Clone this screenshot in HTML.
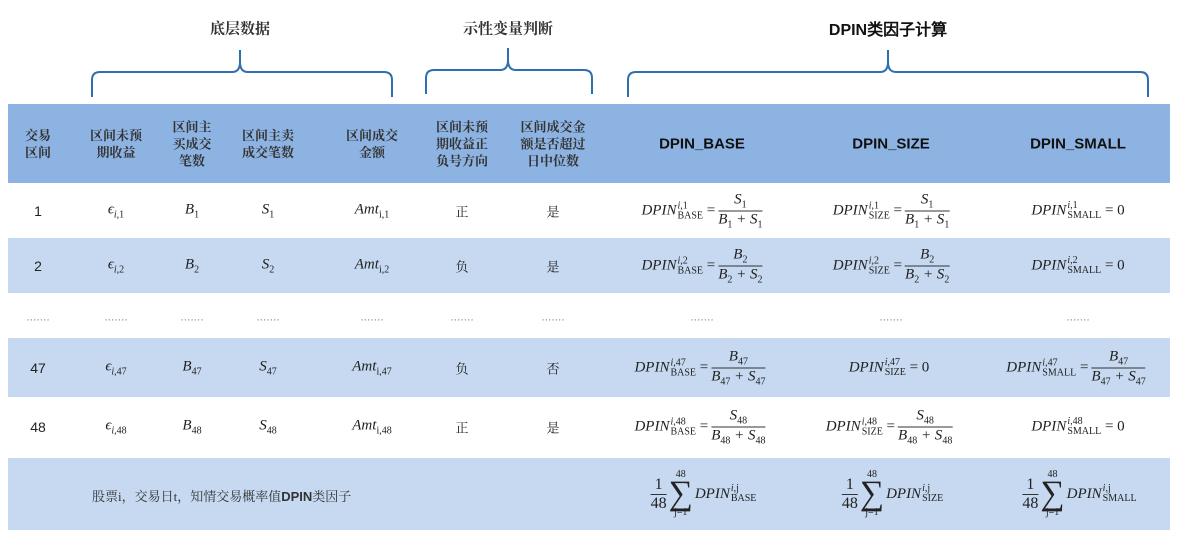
<!DOCTYPE html>
<html><head><meta charset="utf-8"><style>
body{margin:0;width:1179px;height:534px;background:#fff;position:relative;overflow:hidden;font-family:"Liberation Serif","Noto Serif CJK SC",serif;color:#222}
.a{position:absolute}
.band{position:absolute;left:8px;width:1162px}
.c{position:absolute;transform:translate(-50%,-50%);text-align:center;white-space:nowrap}
.hd{font-size:13px;line-height:17px;font-weight:bold;color:#333}
.hs{font-family:"Liberation Sans",sans-serif;font-weight:bold;font-size:15px;color:#111}
.m{font-style:italic;font-size:15px}
.m .u{font-style:normal}
.ss{display:inline-flex;flex-direction:column;vertical-align:middle;font-size:10px;line-height:10px;font-style:normal;margin-left:1px;text-align:left}
.ss i{font-style:italic}
.fr{display:inline-flex;flex-direction:column;vertical-align:middle;text-align:center;margin-left:3px}
.fr span:first-child{border-bottom:1px solid #333;padding:0 2px}
sub{font-size:10px;font-style:normal}
.n{font-family:"Liberation Sans",sans-serif;font-size:14px}
.dot{font-size:10px;color:#777}
.sum{display:inline-flex;align-items:center}
.sum .fr{font-size:16px}
.sg{display:inline-flex;flex-direction:column;align-items:center;font-size:10px;line-height:10px;font-style:normal;margin:0 2px}
.sg b{font-size:34px;line-height:28px;font-weight:normal}
</style></head><body>
<div class="band" style="top:104px;height:79px;background:#8db3e2"></div>
<div class="band" style="top:238px;height:55px;background:#c6d9f1"></div>
<div class="band" style="top:338px;height:59px;background:#c6d9f1"></div>
<div class="band" style="top:458px;height:72px;background:#c6d9f1"></div>

<svg class="a" style="left:0;top:0" width="1179" height="104">
<g fill="none" stroke="#2e6fb0" stroke-width="2">
<path d="M92 97 V80 Q92 72 100 72 H232 Q240 72 240 62 V50 M240 62 Q240 72 248 72 H384 Q392 72 392 80 V97"/>
<path d="M426 94 V78 Q426 70 434 70 H500 Q508 70 508 60 V48 M508 60 Q508 70 516 70 H584 Q592 70 592 78 V94"/>
<path d="M628 97 V80 Q628 72 636 72 H880 Q888 72 888 62 V50 M888 62 Q888 72 896 72 H1140 Q1148 72 1148 80 V97"/>
</g></svg>
<div class="c hd" style="left:240px;top:30px;font-size:15px">底层数据</div>
<div class="c hd" style="left:508px;top:30px;font-size:15px">示性变量判断</div>
<div class="c hs" style="left:888px;top:28px;font-size:16px">DPIN类因子计算</div>

<div class="c hd" style="left:38px;top:144px">交易<br>区间</div>
<div class="c hd" style="left:116px;top:144px">区间未预<br>期收益</div>
<div class="c hd" style="left:192px;top:144px">区间主<br>买成交<br>笔数</div>
<div class="c hd" style="left:268px;top:144px">区间主卖<br>成交笔数</div>
<div class="c hd" style="left:372px;top:144px">区间成交<br>金额</div>
<div class="c hd" style="left:462px;top:144px">区间未预<br>期收益正<br>负号方向</div>
<div class="c hd" style="left:553px;top:144px">区间成交金<br>额是否超过<br>日中位数</div>
<div class="c hs" style="left:702px;top:144px">DPIN_BASE</div>
<div class="c hs" style="left:891px;top:144px">DPIN_SIZE</div>
<div class="c hs" style="left:1078px;top:144px">DPIN_SMALL</div>

<!-- row 1 -->
<div class="c n" style="left:38px;top:211px">1</div>
<div class="c m" style="left:116px;top:211px">ϵ<sub><i>i</i>,1</sub></div>
<div class="c m" style="left:192px;top:211px">B<sub>1</sub></div>
<div class="c m" style="left:268px;top:211px">S<sub>1</sub></div>
<div class="c m" style="left:372px;top:211px">Amt<sub>i,1</sub></div>
<div class="c" style="left:462px;top:211px;font-size:13px">正</div>
<div class="c" style="left:553px;top:211px;font-size:13px">是</div>
<div class="c m" style="left:702px;top:211px">DPIN<span class="ss"><span><i>i</i>,1</span><span>BASE</span></span> <span class="u">=</span><span class="fr"><span>S<sub>1</sub></span><span>B<sub>1</sub> + S<sub>1</sub></span></span></div>
<div class="c m" style="left:891px;top:211px">DPIN<span class="ss"><span><i>i</i>,1</span><span>SIZE</span></span> <span class="u">=</span><span class="fr"><span>S<sub>1</sub></span><span>B<sub>1</sub> + S<sub>1</sub></span></span></div>
<div class="c m" style="left:1078px;top:211px">DPIN<span class="ss"><span><i>i</i>,1</span><span>SMALL</span></span> <span class="u">= 0</span></div>

<!-- row 2 -->
<div class="c n" style="left:38px;top:266px">2</div>
<div class="c m" style="left:116px;top:266px">ϵ<sub><i>i</i>,2</sub></div>
<div class="c m" style="left:192px;top:266px">B<sub>2</sub></div>
<div class="c m" style="left:268px;top:266px">S<sub>2</sub></div>
<div class="c m" style="left:372px;top:266px">Amt<sub>i,2</sub></div>
<div class="c" style="left:462px;top:266px;font-size:13px">负</div>
<div class="c" style="left:553px;top:266px;font-size:13px">是</div>
<div class="c m" style="left:702px;top:266px">DPIN<span class="ss"><span><i>i</i>,2</span><span>BASE</span></span> <span class="u">=</span><span class="fr"><span>B<sub>2</sub></span><span>B<sub>2</sub> + S<sub>2</sub></span></span></div>
<div class="c m" style="left:891px;top:266px">DPIN<span class="ss"><span><i>i</i>,2</span><span>SIZE</span></span> <span class="u">=</span><span class="fr"><span>B<sub>2</sub></span><span>B<sub>2</sub> + S<sub>2</sub></span></span></div>
<div class="c m" style="left:1078px;top:266px">DPIN<span class="ss"><span><i>i</i>,2</span><span>SMALL</span></span> <span class="u">= 0</span></div>

<!-- dots -->
<div class="c dot" style="left:38px;top:321px">·······</div>
<div class="c dot" style="left:116px;top:321px">·······</div>
<div class="c dot" style="left:192px;top:321px">·······</div>
<div class="c dot" style="left:268px;top:321px">·······</div>
<div class="c dot" style="left:372px;top:321px">·······</div>
<div class="c dot" style="left:462px;top:321px">·······</div>
<div class="c dot" style="left:553px;top:321px">·······</div>
<div class="c dot" style="left:702px;top:321px">·······</div>
<div class="c dot" style="left:891px;top:321px">·······</div>
<div class="c dot" style="left:1078px;top:321px">·······</div>

<!-- row 47 -->
<div class="c n" style="left:38px;top:368px">47</div>
<div class="c m" style="left:116px;top:368px">ϵ<sub><i>i</i>,47</sub></div>
<div class="c m" style="left:192px;top:368px">B<sub>47</sub></div>
<div class="c m" style="left:268px;top:368px">S<sub>47</sub></div>
<div class="c m" style="left:372px;top:368px">Amt<sub>i,47</sub></div>
<div class="c" style="left:462px;top:368px;font-size:13px">负</div>
<div class="c" style="left:553px;top:368px;font-size:13px">否</div>
<div class="c m" style="left:700px;top:368px">DPIN<span class="ss"><span><i>i</i>,47</span><span>BASE</span></span> <span class="u">=</span><span class="fr"><span>B<sub>47</sub></span><span>B<sub>47</sub> + S<sub>47</sub></span></span></div>
<div class="c m" style="left:889px;top:368px">DPIN<span class="ss"><span><i>i</i>,47</span><span>SIZE</span></span> <span class="u">= 0</span></div>
<div class="c m" style="left:1076px;top:368px">DPIN<span class="ss"><span><i>i</i>,47</span><span>SMALL</span></span> <span class="u">=</span><span class="fr"><span>B<sub>47</sub></span><span>B<sub>47</sub> + S<sub>47</sub></span></span></div>

<!-- row 48 -->
<div class="c n" style="left:38px;top:427px">48</div>
<div class="c m" style="left:116px;top:427px">ϵ<sub><i>i</i>,48</sub></div>
<div class="c m" style="left:192px;top:427px">B<sub>48</sub></div>
<div class="c m" style="left:268px;top:427px">S<sub>48</sub></div>
<div class="c m" style="left:372px;top:427px">Amt<sub>i,48</sub></div>
<div class="c" style="left:462px;top:427px;font-size:13px">正</div>
<div class="c" style="left:553px;top:427px;font-size:13px">是</div>
<div class="c m" style="left:700px;top:427px">DPIN<span class="ss"><span><i>i</i>,48</span><span>BASE</span></span> <span class="u">=</span><span class="fr"><span>S<sub>48</sub></span><span>B<sub>48</sub> + S<sub>48</sub></span></span></div>
<div class="c m" style="left:889px;top:427px">DPIN<span class="ss"><span><i>i</i>,48</span><span>SIZE</span></span> <span class="u">=</span><span class="fr"><span>S<sub>48</sub></span><span>B<sub>48</sub> + S<sub>48</sub></span></span></div>
<div class="c m" style="left:1078px;top:427px">DPIN<span class="ss"><span><i>i</i>,48</span><span>SMALL</span></span> <span class="u">= 0</span></div>

<!-- summary -->
<div class="a" style="left:92px;top:486px;font-size:13px;color:#333">股票i，交易日t，知情交易概率值<span style="font-family:'Liberation Sans',sans-serif;font-weight:bold">DPIN</span>类因子</div>
<div class="c m" style="left:702px;top:494px"><span class="sum"><span class="fr u"><span>1</span><span>48</span></span><span class="sg">48<b>∑</b>j=1</span>DPIN<span class="ss"><span><i>i</i>,j</span><span>BASE</span></span></span></div>
<div class="c m" style="left:891px;top:494px"><span class="sum"><span class="fr u"><span>1</span><span>48</span></span><span class="sg">48<b>∑</b>j=1</span>DPIN<span class="ss"><span><i>i</i>,j</span><span>SIZE</span></span></span></div>
<div class="c m" style="left:1078px;top:494px"><span class="sum"><span class="fr u"><span>1</span><span>48</span></span><span class="sg">48<b>∑</b>j=1</span>DPIN<span class="ss"><span><i>i</i>,j</span><span>SMALL</span></span></span></div>
</body></html>
